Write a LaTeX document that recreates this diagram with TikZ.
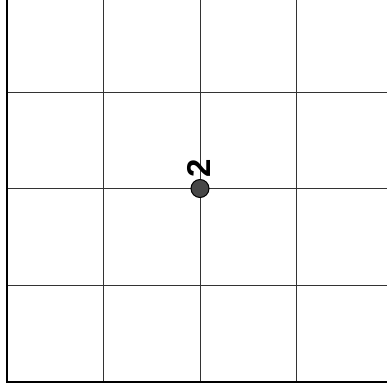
\documentclass[tikz,border=0pt]{standalone}
\usepackage{fontspec}
\setmainfont{Liberation Sans}
\begin{document}
\begin{tikzpicture}[x=1pt,y=-1pt,
  gridline/.style={line width=1pt,draw=black!80},
  axisline/.style={line width=2.2pt,draw=black},
  pointdot/.style={circle,draw=black,line width=1pt,fill=black!72,minimum size=18pt,inner sep=0pt},
  ptlabel/.style={font=\fontsize{33}{33}\selectfont\bfseries,rotate=90,inner sep=0pt}]
\useasboundingbox (0,0) rectangle (387,391);
% grid
\foreach \x in {103.5,200,296} \draw[gridline] (\x,0) -- (\x,382);
\foreach \y in {92,188.5,285} \draw[gridline] (7,\y) -- (387,\y);
% axes
\coordinate (o) at (7,382);
\coordinate (ytop) at (7,0);
\coordinate (xend) at (387,382);
\draw[axisline] (ytop) -- (o) -- (xend);
% point
\node[pointdot] (p) at (200,188.5) {};
\node[ptlabel] (l) at (199,168) {2};
\end{tikzpicture}
\end{document}
